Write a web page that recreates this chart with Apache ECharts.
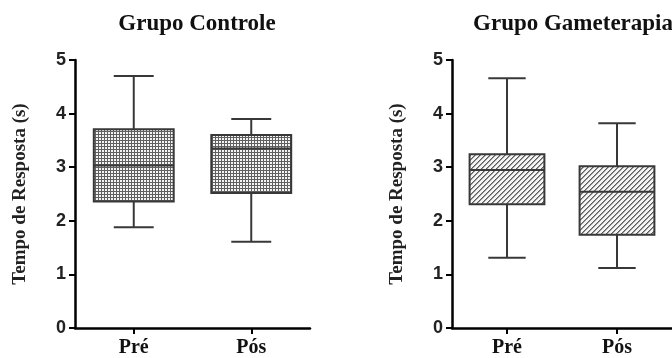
<!DOCTYPE html>
<html><head><meta charset="utf-8">
<script src="https://cdn.jsdelivr.net/npm/echarts@6/dist/echarts.min.js"></script>
<style>html,body{margin:0;padding:0;background:#fff}#c{width:672px;height:358px}</style>
</head><body><div id="c"></div>
<script>
// Tick labels / categories
var categories = ['Pré', 'Pós'];
var yTicks = [0, 1, 2, 3, 4, 5];
// [min, Q1, median, Q3, max]
var controlePre = [1.88, 2.36, 3.03, 3.71, 4.70];
var controlePos = [1.61, 2.52, 3.35, 3.60, 3.90];
var gamePre = [1.31, 2.31, 2.95, 3.24, 4.66];
var gamePos = [1.12, 1.74, 2.54, 3.02, 3.82];
var titles = ['Grupo Controle', 'Grupo Gameterapia'];
var yName = 'Tempo de Resposta (s)';

function makeDots() {
  var c = document.createElement('canvas'); c.width = 3; c.height = 3;
  var g = c.getContext('2d');
  g.fillStyle = '#606060'; g.fillRect(0, 0, 3, 3);
  g.fillStyle = '#f4f4f4'; g.fillRect(0, 0, 2, 2);
  return c;
}
function makeHatch() {
  var c = document.createElement('canvas'); c.width = 5; c.height = 5;
  var g = c.getContext('2d');
  g.fillStyle = '#f4f4f4'; g.fillRect(0, 0, 5, 5);
  g.fillStyle = '#5c5c5c';
  for (var i = 0; i < 5; i++) { g.fillRect(i, 4 - i, 1, 1); }
  g.fillStyle = '#9a9a9a';
  for (var j = 0; j < 5; j++) { g.fillRect((j + 1) % 5, 4 - j, 1, 1); }
  return c;
}
var dotPat = makeDots(), hatchPat = makeHatch();

function rowsOf(a, b) { return [[0].concat(a), [1].concat(b)]; }

function renderer(pat) {
  return function (params, api) {
    var x = api.value(0);
    var mn = api.coord([x, api.value(1)]), q1 = api.coord([x, api.value(2)]),
        md = api.coord([x, api.value(3)]), q3 = api.coord([x, api.value(4)]),
        mx = api.coord([x, api.value(5)]);
    var w = api.size([1, 0])[0] * 0.68;
    var cx = mn[0];
    var ls = { stroke: '#383838', lineWidth: 2 };
    return {
      type: 'group',
      children: [
        { type: 'line', shape: { x1: cx, y1: q3[1], x2: cx, y2: mx[1] }, style: ls },
        { type: 'line', shape: { x1: cx - w / 4, y1: mx[1], x2: cx + w / 4, y2: mx[1] }, style: ls },
        { type: 'line', shape: { x1: cx, y1: q1[1], x2: cx, y2: mn[1] }, style: ls },
        { type: 'line', shape: { x1: cx - w / 4, y1: mn[1], x2: cx + w / 4, y2: mn[1] }, style: ls },
        { type: 'rect', shape: { x: cx - w / 2, y: q3[1], width: w, height: q1[1] - q3[1] },
          style: { fill: { image: pat, repeat: 'repeat' }, stroke: '#383838', lineWidth: 2 } },
        { type: 'line', shape: { x1: cx - w / 2, y1: md[1], x2: cx + w / 2, y2: md[1] }, style: ls }
      ]
    };
  };
}

function yAxis(i) {
  return {
    gridIndex: i, type: 'value', min: yTicks[0], max: yTicks[yTicks.length - 1], interval: 1,
    name: yName, nameLocation: 'middle', nameGap: 45,
    nameTextStyle: { fontFamily: 'Liberation Serif', fontWeight: 'bold', fontSize: 19, color: '#222' },
    axisLine: { show: true, lineStyle: { color: '#000', width: 2.5 } },
    axisTick: { show: true, length: 6, lineStyle: { color: '#000', width: 2 } },
    axisLabel: { fontFamily: 'Liberation Sans', fontWeight: 'bold', fontSize: 18, color: '#222', margin: 9 },
    splitLine: { show: false }
  };
}
function xAxis(i) {
  return {
    gridIndex: i, type: 'category', data: categories,
    axisLine: { show: true, lineStyle: { color: '#000', width: 2.5 } },
    axisTick: { show: true, alignWithLabel: true, length: 6, lineStyle: { color: '#000', width: 2 } },
    axisLabel: { fontFamily: 'Liberation Serif', fontWeight: 'bold', fontSize: 20, color: '#111', margin: 10 },
    splitLine: { show: false }
  };
}

var chart = echarts.init(document.getElementById('c'), null, { renderer: 'canvas' });
chart.setOption({
  animation: false,
  backgroundColor: '#fff',
  title: [
    { text: titles[0], left: 192, top: 8, textAlign: 'center',
      textStyle: { fontFamily: 'Liberation Serif', fontWeight: 'bold', fontSize: 23, color: '#111' } },
    { text: titles[1], left: 568, top: 8, textAlign: 'center',
      textStyle: { fontFamily: 'Liberation Serif', fontWeight: 'bold', fontSize: 23, color: '#111' } }
  ],
  grid: [
    { left: 75, top: 60, width: 235, height: 268 },
    { left: 452, top: 60, width: 230, height: 268 }
  ],
  xAxis: [xAxis(0), xAxis(1)],
  yAxis: [yAxis(0), yAxis(1)],
  series: [
    { type: 'custom', xAxisIndex: 0, yAxisIndex: 0, renderItem: renderer(dotPat),
      encode: { x: 0, y: [1, 2, 3, 4, 5] }, data: rowsOf(controlePre, controlePos) },
    { type: 'custom', xAxisIndex: 1, yAxisIndex: 1, renderItem: renderer(hatchPat),
      encode: { x: 0, y: [1, 2, 3, 4, 5] }, data: rowsOf(gamePre, gamePos) }
  ]
});
</script></body></html>
